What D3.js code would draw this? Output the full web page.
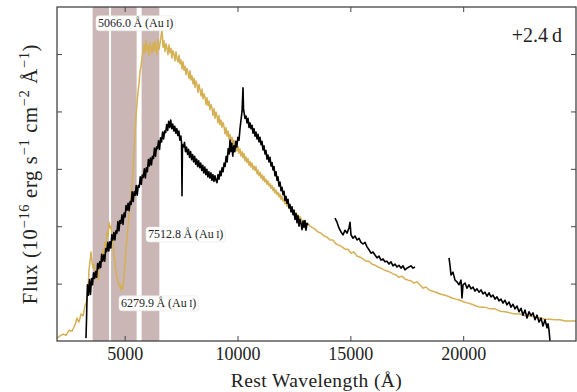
<!DOCTYPE html>
<html>
<head>
<meta charset="utf-8">
<script src="https://cdn.jsdelivr.net/npm/d3@7/dist/d3.min.js"></script>
<style>
  body { margin: 0; background: #fff; }
  svg { display: block; }
</style>
</head>
<body>
<svg id="chart" width="577" height="392"></svg>
<script>
// ---- data: wavelength (Å) vs flux (10^-16 erg s^-1 cm^-2 Å^-1) ----

// model spectrum
const modelSpectrum = [
  [2000,0.05],[2133,0.09],[2266,0.12],[2399,0.10],[2532,0.19],[2665,0.17],[2798,0.28],[2886,0.40],[2975,0.33],[3064,0.47],
  [3152,0.44],[3241,0.61],[3329,0.71],[3374,0.89],[3418,1.24],[3462,1.38],[3507,1.55],[3551,1.38],[3595,1.27],[3640,1.34],
  [3684,1.15],[3728,1.10],[3773,1.20],[3817,1.06],[3861,1.24],[3906,1.31],[3950,1.45],[3994,1.38],[4039,1.59],[4083,1.52],
  [4127,1.72],[4172,1.65],[4216,1.90],[4260,1.83],[4305,2.07],[4349,1.97],[4393,2.00],[4437,1.85],[4482,1.72],[4526,1.50],
  [4570,1.38],[4615,1.20],[4659,1.10],[4703,1.03],[4748,0.96],[4792,0.99],[4836,0.89],[4881,0.96],[4925,0.91],[4969,1.13],
  [5013,1.34],[5058,1.59],[5102,1.79],[5147,2.00],[5191,2.21],[5235,2.37],[5279,2.53],[5324,2.70],[5368,2.98],[5412,3.29],
  [5457,3.61],[5501,3.92],[5545,4.13],[5590,4.34],[5634,4.48],[5678,4.69],[5723,4.79],[5767,4.93],[5811,5.03],
  [5855,5.17],[5900,5.02],[5944,5.24],[5988,5.06],[6033,5.15],[6077,4.98],[6121,5.20],[6166,5.09],[6210,5.01],[6254,5.19],
  [6299,5.05],[6343,5.22],[6387,5.10],[6432,4.99],[6476,5.26],[6520,5.08],[6565,5.18],[6609,5.30],[6653,5.45],[6698,5.12],
  [6742,5.23],[6786,5.04],[6830,5.18],[6875,5.11],[6919,4.99],[6963,5.16],[7008,5.02],[7052,5.10],[7096,4.93],[7141,5.06],
  [7185,5.00],[7229,4.88],[7274,5.04],[7318,4.92],[7362,4.86],[7407,4.98],[7451,4.83],[7495,4.90],[7540,4.74],[7584,4.87],
  [7628,4.72],[7672,4.79],[7717,4.64],[7761,4.75],[7805,4.68],[7850,4.57],[7894,4.71],[7938,4.55],[7983,4.62],[8027,4.48],
  [8071,4.58],[8116,4.42],[8160,4.53],[8204,4.46],[8249,4.33],[8293,4.47],[8337,4.38],[8382,4.27],[8426,4.39],[8470,4.22],
  [8515,4.31],[8559,4.25],[8603,4.12],[8647,4.24],[8692,4.10],[8736,4.18],[8780,4.03],[8825,4.12],[8869,4.06],[8913,3.93],
  [8958,4.05],[9002,3.88],[9046,3.99],[9091,3.92],[9135,3.80],[9179,3.93],[9224,3.77],[9268,3.85],[9312,3.72],[9356,3.81],
  [9401,3.74],[9445,3.61],[9490,3.72],[9534,3.57],[9578,3.66],[9622,3.52],[9667,3.60],[9711,3.48],[9756,3.55],[9800,3.42],
  [9844,3.50],[9888,3.36],[9933,3.45],[9977,3.31],[10021,3.39],[10066,3.27],[10110,3.35],[10154,3.22],[10199,3.30],[10243,3.19],
  [10287,3.27],[10332,3.14],[10376,3.21],[10420,3.11],[10465,3.18],[10509,3.06],[10553,3.13],[10597,3.03],[10642,3.10],[10686,2.99],
  [10730,3.05],[10775,2.97],[10819,3.04],[10863,2.91],[10908,2.98],[10952,2.88],[10996,2.94],[11040,2.84],[11085,2.90],[11129,2.80],
  [11173,2.87],[11218,2.77],[11262,2.82],[11306,2.73],[11351,2.79],[11395,2.70],[11439,2.74],[11484,2.66],[11528,2.71],[11572,2.62],
  [11617,2.67],[11661,2.58],[11705,2.63],[11750,2.55],[11794,2.59],[11838,2.51],[11882,2.56],[11927,2.47],[11971,2.52],[12015,2.44],
  [12060,2.47],[12104,2.39],[12148,2.43],[12193,2.35],[12237,2.39],[12281,2.31],[12326,2.35],[12370,2.27],[12414,2.31],[12459,2.24],
  [12503,2.27],[12547,2.20],[12592,2.24],[12636,2.17],[12680,2.20],[12725,2.13],[12769,2.17],[12858,2.09],[12946,2.10],[13035,2.04],
  [13123,2.05],[13212,2.00],[13301,1.98],[13433,1.95],[13566,1.90],[13699,1.88],[13832,1.83],[13965,1.81],[14098,1.76],[14231,1.76],
  [14364,1.69],[14497,1.67],[14630,1.64],[14763,1.60],[14896,1.60],[15029,1.53],[15161,1.55],[15295,1.48],[15428,1.46],[15561,1.43],
  [15694,1.39],[15827,1.39],[15960,1.34],[16093,1.32],[16225,1.29],[16358,1.27],[16491,1.24],[16624,1.22],[16757,1.20],[16890,1.17],
  [17023,1.15],[17156,1.11],[17289,1.13],[17422,1.08],[17555,1.06],[17688,1.05],[17821,1.01],[17954,1.03],[18087,0.98],[18220,0.92],
  [18353,0.94],[18485,0.89],[18618,0.87],[18796,0.85],[18973,0.82],[19150,0.80],[19327,0.78],[19505,0.75],[19682,0.73],[19860,0.71],
  [20037,0.68],[20214,0.66],[20391,0.64],[20569,0.61],[20746,0.59],[20967,0.59],[21189,0.56],[21410,0.56],[21632,0.52],[21853,0.51],
  [22075,0.49],[22297,0.47],[22518,0.47],[22740,0.44],[22962,0.44],[23183,0.42],[23405,0.40],[23626,0.38],[23848,0.38],[24070,0.37],
  [24291,0.37],[24513,0.35],[24734,0.35],[25045,0.35]
];

// observed spectrum, optical + J band
const observedOptical = [
  [3285,0.05],[3310,0.40],[3330,0.75],[3350,0.98],[3395,0.80],[3440,1.07],[3485,0.81],[3530,1.09],[3575,0.98],[3620,1.19],
  [3665,1.09],[3710,1.21],[3755,1.11],[3800,1.35],[3845,1.26],[3890,1.38],[3935,1.28],[3980,1.51],[4025,1.39],[4070,1.50],
  [4115,1.39],[4160,1.61],[4205,1.56],[4250,1.72],[4295,1.57],[4340,1.73],[4385,1.62],[4430,1.85],[4475,1.76],[4520,1.89],
  [4565,1.76],[4610,1.92],[4655,1.88],[4700,2.08],[4745,1.92],[4790,2.10],[4835,2.05],[4880,2.20],[4925,2.03],[4970,2.23],
  [5015,2.16],[5060,2.36],[5105,2.28],[5150,2.40],[5195,2.27],[5240,2.43],[5285,2.38],[5330,2.60],[5375,2.43],[5420,2.60],
  [5465,2.54],[5510,2.71],[5555,2.54],[5600,2.71],[5645,2.68],[5690,2.86],[5735,2.73],[5780,2.89],[5825,2.85],[5870,3.00],
  [5915,2.84],[5960,3.02],[6005,2.95],[6050,3.16],[6095,3.05],[6140,3.19],[6185,3.07],[6230,3.22],[6275,3.18],[6320,3.36],
  [6365,3.22],[6410,3.38],[6455,3.35],[6500,3.49],[6545,3.34],[6590,3.54],[6635,3.47],[6680,3.64],[6725,3.52],[6770,3.66],
  [6815,3.63],[6860,3.77],[6905,3.67],[6950,3.83],[6995,3.72],[7040,3.85],[7085,3.70],[7130,3.78],[7175,3.66],[7220,3.74],
  [7265,3.62],[7310,3.70],[7355,3.58],[7400,3.66],[7445,3.50],[7490,3.57],[7520,3.45],[7540,2.53],[7560,3.42],[7605,3.38],
  [7650,3.46],[7695,3.30],[7740,3.38],[7785,3.25],[7830,3.34],[7875,3.20],[7920,3.30],[7965,3.16],[8010,3.25],[8055,3.12],
  [8100,3.22],[8145,3.08],[8190,3.17],[8235,3.04],[8280,3.14],[8325,3.02],[8370,3.10],[8415,2.97],[8460,3.06],[8505,2.93],
  [8550,3.03],[8595,2.90],[8640,2.99],[8685,2.86],[8730,2.95],[8775,2.84],[8820,2.93],[8865,2.80],[8910,2.90],[8955,2.78],
  [9000,2.88],[9045,2.80],[9090,2.76],[9135,2.90],[9180,2.82],[9225,2.96],[9270,2.88],[9315,3.02],[9360,2.95],[9405,3.10],
  [9450,3.04],[9495,3.22],[9540,3.12],[9585,3.35],[9630,3.26],[9667,3.50],[9700,3.30],[9745,3.45],[9790,3.22],[9835,3.40],
  [9880,3.30],[9925,3.48],[9970,3.38],[10015,3.55],[10066,3.50],[10110,3.70],[10154,3.85],[10200,4.00],[10243,4.41],[10265,4.05],
  [10290,3.98],[10332,3.88],[10376,3.92],[10420,3.80],[10465,3.88],[10509,3.72],[10553,3.80],[10597,3.70],[10642,3.76],[10686,3.62],
  [10730,3.70],[10775,3.57],[10819,3.64],[10863,3.52],[10908,3.60],[10952,3.47],[10996,3.55],[11040,3.42],[11085,3.48],[11129,3.33],
  [11173,3.40],[11218,3.26],[11262,3.32],[11306,3.17],[11351,3.24],[11395,3.12],[11439,3.20],[11484,3.05],[11528,3.11],[11572,2.98],
  [11617,3.04],[11661,2.88],[11705,2.95],[11750,2.80],[11794,2.86],[11838,2.70],[11882,2.77],[11927,2.62],[11971,2.68],[12015,2.55],
  [12060,2.61],[12104,2.45],[12148,2.52],[12193,2.40],[12237,2.47],[12281,2.32],[12326,2.38],[12370,2.25],[12414,2.34],[12459,2.20],
  [12503,2.28],[12547,2.12],[12592,2.22],[12636,2.06],[12680,2.18],[12725,2.00],[12769,2.12],[12813,2.05],[12858,1.94],[12902,2.09],
  [12946,1.98],[12990,2.10],[13035,1.93],[13079,2.05],[13123,2.02]
];

// observed spectrum, H band
const observedH = [
  [14320,2.14],[14408,2.07],[14497,1.97],[14586,1.90],[14674,1.85],[14763,1.93],[14852,1.88],[14940,1.97],[14985,2.07],[15029,1.85],
  [15118,1.79],[15207,1.83],[15295,1.76],[15384,1.79],[15472,1.72],[15561,1.69],[15650,1.72],[15738,1.64],[15827,1.59],[15915,1.53],
  [16004,1.55],[16093,1.50],[16181,1.45],[16270,1.48],[16358,1.41],[16447,1.43],[16536,1.38],[16624,1.39],[16713,1.34],[16801,1.38],
  [16890,1.31],[16979,1.34],[17067,1.29],[17156,1.32],[17245,1.27],[17333,1.31],[17422,1.24],[17510,1.27],[17599,1.29],[17688,1.31],
  [17776,1.27],[17865,1.29]
];

// observed spectrum, K band
const observedK = [
  [19372,1.45],[19416,1.32],[19461,1.15],[19549,1.20],[19638,1.06],[19726,1.03],[19815,0.98],[19904,1.06],[19948,0.75],[19993,0.98],
  [20081,1.01],[20170,0.92],[20258,0.98],[20347,0.91],[20436,0.94],[20524,0.87],[20613,0.91],[20701,0.85],[20790,0.89],[20879,0.82],
  [20967,0.85],[21056,0.78],[21144,0.84],[21233,0.77],[21322,0.80],[21410,0.73],[21499,0.77],[21588,0.70],[21676,0.73],[21765,0.66],
  [21853,0.71],[21942,0.63],[22031,0.68],[22119,0.59],[22208,0.64],[22297,0.56],[22385,0.61],[22474,0.51],[22563,0.57],[22651,0.45],
  [22740,0.54],[22829,0.40],[22917,0.51],[23006,0.44],[23095,0.49],[23183,0.37],[23272,0.45],[23360,0.33],[23449,0.40],[23538,0.26],
  [23626,0.37],[23715,0.23],[23760,0.30],[23804,0.19],[23848,0.00]
];

// Au I absorption windows (Å)
const bandStart = [3580, 4395, 5750];
const bandEnd   = [4305, 5530, 6535];

// line labels: rest wavelength, anchor wavelength and flux
const lineRest   = ["5066.0", "7512.8", "6279.9"];
const lineLabelX = [3817, 6033, 4836];
const lineLabelY = [5.54, 1.86, 0.66];

const xTicks = [5000, 10000, 15000, 20000];
const yTicks = [1, 2, 3, 4, 5];
const epochLabel = "+2.4\u2009d";

// ---- layout ----
const svg = d3.select("#chart");
const plotLeft = 57, plotRight = 576, plotTop = 7, plotBottom = 341;
const serif = "'Liberation Serif', 'DejaVu Serif', serif";

const x = d3.scaleLinear().domain([2000, 25000]).range([plotLeft, plotRight]);
const y = d3.scaleLinear().domain([0, 5.82]).range([plotBottom, plotTop]);

svg.append("defs").append("clipPath").attr("id", "plotClip")
  .append("rect").attr("x", plotLeft).attr("y", plotTop)
  .attr("width", plotRight - plotLeft).attr("height", plotBottom - plotTop);

const plot = svg.append("g").attr("clip-path", "url(#plotClip)");

// shaded windows
plot.selectAll("rect.band")
  .data(bandStart.map((s, i) => [s, bandEnd[i]]))
  .join("rect")
  .attr("class", "band")
  .attr("x", d => x(d[0]))
  .attr("width", d => x(d[1]) - x(d[0]))
  .attr("y", plotTop)
  .attr("height", plotBottom - plotTop)
  .attr("fill", "#cbb6b6");

const line = d3.line().x(d => x(d[0])).y(d => y(d[1]));

plot.append("path")
  .datum(modelSpectrum)
  .attr("d", line)
  .attr("fill", "none")
  .attr("stroke", "#d6b055")
  .attr("stroke-width", 1.5)
  .attr("stroke-linejoin", "round");

[observedOptical, observedH, observedK].forEach(seg => {
  plot.append("path")
    .datum(seg)
    .attr("d", line)
    .attr("fill", "none")
    .attr("stroke", "#000")
    .attr("stroke-width", 1.6)
    .attr("stroke-linejoin", "round");
});

// ---- axes (ticks point inward, labels only on bottom) ----
const axisColor = "#444";
function styleAxis(g) {
  g.select(".domain").remove();
  g.selectAll(".tick line").attr("stroke", axisColor).attr("stroke-width", 1);
}

svg.append("g")
  .attr("transform", `translate(0,${plotBottom})`)
  .call(d3.axisBottom(x).tickValues(xTicks).tickFormat(d3.format("d"))
        .tickSizeInner(-5).tickSizeOuter(0).tickPadding(6))
  .call(styleAxis)
  .call(g => g.selectAll(".tick text")
    .attr("font-family", serif).attr("font-size", 18).attr("fill", "#222"));

svg.append("g")
  .attr("transform", `translate(0,${plotTop})`)
  .call(d3.axisTop(x).tickValues(xTicks).tickFormat("")
        .tickSizeInner(-5).tickSizeOuter(0))
  .call(styleAxis);

svg.append("g")
  .attr("transform", `translate(${plotLeft},0)`)
  .call(d3.axisLeft(y).tickValues(yTicks).tickFormat("")
        .tickSizeInner(-5).tickSizeOuter(0))
  .call(styleAxis);

svg.append("g")
  .attr("transform", `translate(${plotRight},0)`)
  .call(d3.axisRight(y).tickValues(yTicks).tickFormat("")
        .tickSizeInner(-5).tickSizeOuter(0))
  .call(styleAxis);

// frame
svg.append("rect")
  .attr("x", plotLeft).attr("y", plotTop)
  .attr("width", plotRight - plotLeft).attr("height", plotBottom - plotTop)
  .attr("fill", "none").attr("stroke", axisColor).attr("stroke-width", 1.3);

// ---- line labels with white rounded boxes ----
lineRest.forEach((rest, i) => {
  const g = svg.append("g");
  const t = g.append("text")
    .attr("x", x(lineLabelX[i]))
    .attr("y", y(lineLabelY[i]))
    .attr("dy", "0.35em")
    .attr("font-family", serif)
    .attr("font-size", 12)
    .attr("fill", "#222");
  t.append("tspan").text(rest + "\u2009Å (Au\u2009");
  t.append("tspan").attr("font-size", 9.5).text("I");
  t.append("tspan").text(")");
  const b = t.node().getBBox();
  g.insert("rect", "text")
    .attr("x", b.x - 2).attr("y", b.y - 0.5)
    .attr("width", b.width + 4).attr("height", b.height + 1)
    .attr("rx", 3).attr("ry", 3)
    .attr("fill", "#fff")
    .attr("stroke", "#e6e6e6").attr("stroke-width", 0.6);
});

// epoch
svg.append("text")
  .attr("x", 562).attr("y", 42)
  .attr("text-anchor", "end")
  .attr("font-family", serif)
  .attr("font-size", 20)
  .attr("fill", "#222")
  .text(epochLabel);

// axis titles
svg.append("text")
  .attr("x", (plotLeft + plotRight) / 2)
  .attr("y", 387)
  .attr("text-anchor", "middle")
  .attr("font-family", serif)
  .attr("font-size", 19.5)
  .attr("letter-spacing", 0.4)
  .attr("fill", "#222")
  .text("Rest Wavelength (Å)");

const yl = svg.append("text")
  .attr("transform", "translate(37,174) rotate(-90)")
  .attr("text-anchor", "middle")
  .attr("font-family", serif)
  .attr("font-size", 20.5)
  .attr("letter-spacing", 0.7)
  .attr("fill", "#222");
const parts = [["Flux (10", false], ["\u221216", true], [" erg s", false], ["\u22121", true],
               [" cm", false], ["\u22122", true], [" Å", false], ["\u22121", true], [")", false]];
let raised = false;
parts.forEach(([txt, sup]) => {
  const ts = yl.append("tspan").text(txt);
  if (sup) { ts.attr("font-size", 14.5).attr("dy", raised ? 0 : -8.5); raised = true; }
  else { ts.attr("dy", raised ? 8.5 : 0); raised = false; }
});
</script>
</body>
</html>
